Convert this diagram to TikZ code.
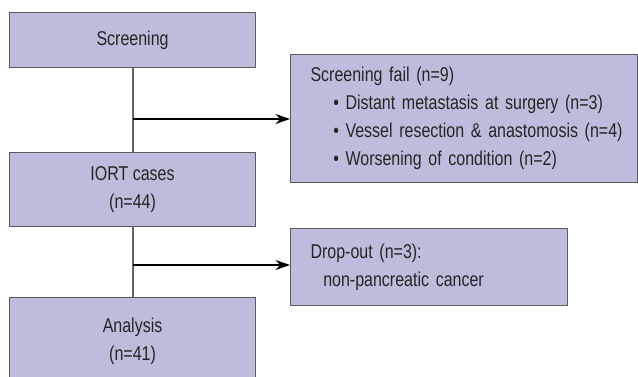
\documentclass[tikz,border=0pt]{standalone}
\usepackage{fontspec}
\setmainfont{Liberation Sans}[FakeStretch=0.8]
\usepackage{tikz}
\usetikzlibrary{arrows.meta}
\definecolor{boxfill}{RGB}{188,188,221}
\definecolor{boxline}{RGB}{90,90,90}
\definecolor{linkline}{RGB}{100,100,100}

\begin{document}
\begin{tikzpicture}[x=0.55pt,y=-0.55pt]
\tikzstyle{box}=[draw=boxline, line width=0.6pt, fill=boxfill, anchor=north west, inner sep=0pt, font=\fontsize{11}{15.4}\selectfont, text=black!85]
\tikzstyle{mainbox}=[box, minimum width=135.3pt, align=center]
\tikzstyle{sidebox}=[box, align=left, inner xsep=11pt]
\tikzstyle{link}=[draw=linkline, line width=0.6pt]
\tikzstyle{excl}=[draw=black, line width=0.6pt, -{Stealth[length=8pt,width=5.5pt]}]
\useasboundingbox (0,0) rectangle (638,376);
% main column
\node[mainbox, minimum height=30.25pt] (screen) at (9,12) {Screening};
\node[mainbox, minimum height=40.7pt] (iort) at (9,152) {IORT cases\\(n=44)};
\node[mainbox, minimum height=48.4pt] (analysis) at (9,297) {Analysis\\(n=41)};
% exclusions
\node[sidebox, text width=168.85pt, minimum height=70.4pt] (fail) at (290,54)
  {\mbox{Screening fail (n=9)}\\
   \mbox{\hspace*{12.5pt}\textbullet\ Distant metastasis at surgery (n=3)}\\
   \mbox{\hspace*{12.5pt}\textbullet\ Vessel resection \& anastomosis (n=4)}\\
   \mbox{\hspace*{12.5pt}\textbullet\ Worsening of condition (n=2)}};
\node[sidebox, text width=130.35pt, minimum height=42.35pt] (drop) at (290,228)
  {\mbox{Drop-out (n=3):}\\
   \mbox{\hspace*{7pt}non-pancreatic cancer}};
% connectors
\coordinate (j1) at (133,119);
\coordinate (j2) at (133,265);
\draw[link] (screen.south -| j1) -- (iort.north -| j1);
\draw[link] (iort.south -| j2) -- (analysis.north -| j2);
\draw[excl] (j1) -- (j1 -| fail.west);
\draw[excl] (j2) -- (j2 -| drop.west);
\end{tikzpicture}
\end{document}
